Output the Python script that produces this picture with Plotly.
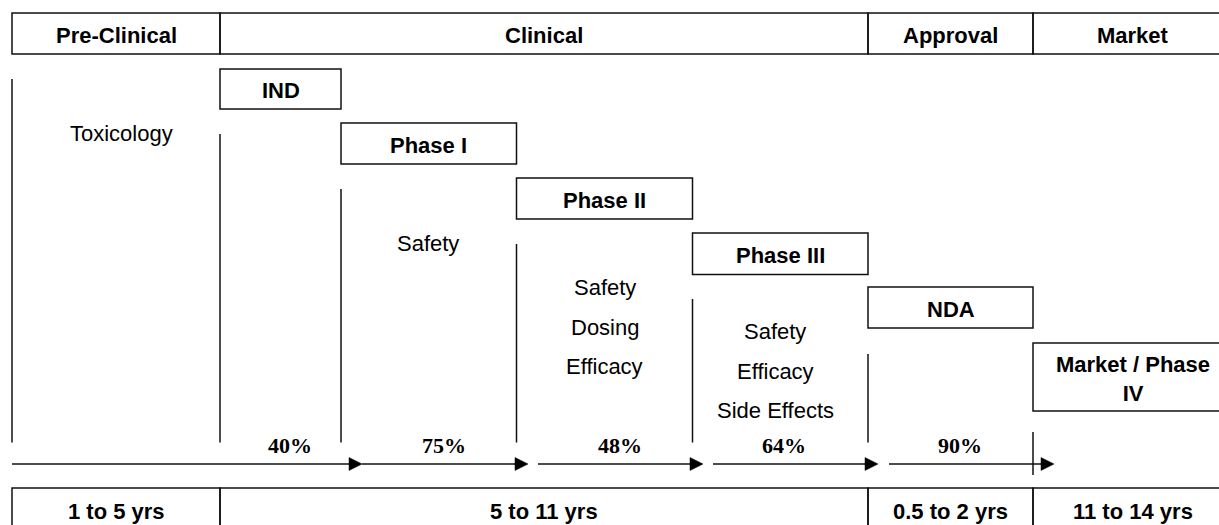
import plotly.graph_objects as go

# ---------------- data ----------------
stage_labels = ["Pre-Clinical", "Clinical", "Approval", "Market"]
stage_durations = ["1 to 5 yrs", "5 to 11 yrs", "0.5 to 2 yrs", "11 to 14 yrs"]
milestone_labels = ["IND", "Phase I", "Phase II", "Phase III", "NDA", "Market / Phase<br>IV"]
phase_notes = [
    ["Toxicology"],
    ["Safety"],
    ["Safety", "Dosing", "Efficacy"],
    ["Safety", "Efficacy", "Side Effects"],
]
success_rates = [40, 75, 48, 64, 90]

# ---------------- layout geometry (diagram units = px) ----------------
W, H = 1219, 525
stage_edges = [12, 220, 868, 1033, 1232]
header_top, header_bot = 13, 54
footer_top, footer_bot = 488, 530

step_edges = [220, 341, 516.5, 692.5, 868, 1033, 1232]
step_tops = [69, 123, 178, 233, 287, 343]
step_bots = [109, 164, 219, 274.5, 328, 411]

divider_x = [12, 220, 341, 516.5, 692.5, 868]
divider_top = [79, 134, 189, 244, 299, 354]
divider_bot = 442.5

note_x = [121.5, 428, 604.5, 775]
note_y0 = [132.5, 243, 287, 331]
note_gap = [0, 0, 39.5, 39.5]

rate_x = [290, 444, 620, 784, 960]
rate_y = 445

arrow_y = 464
arrow_start = [12, 362, 538, 713, 889]
arrow_end = [362, 528, 703, 878, 1054]
head_len, head_half = 13, 6.5
tick_x, tick_top, tick_bot = 1033, 432, 475

LINE = dict(color="#111111", width=1.5)
SANS = "Liberation Sans, Arial, sans-serif"
SERIF = "Liberation Serif, Times New Roman, serif"
FS = 22
TXT_DY = 0.5  # small vertical nudge to align cap-height centres

fig = go.Figure()
fig.add_trace(go.Scatter(x=[0, W], y=[0, H], mode="markers",
                         marker=dict(opacity=0), hoverinfo="skip", showlegend=False))

shapes = []
ann = []

def text(x, y, s, family=SANS, bold=False, size=FS):
    ann.append(dict(x=x, y=y + TXT_DY, xref="x", yref="y", text=s, showarrow=False,
                    xanchor="center", yanchor="middle",
                    font=dict(family=family, size=size, color="#000000",
                              weight="bold" if bold else "normal")))

# header and footer rows
for (top, bot, labels, cy) in [(header_top, header_bot, stage_labels, 35),
                               (footer_top, footer_bot, stage_durations, 511)]:
    for i, lab in enumerate(labels):
        x0, x1 = stage_edges[i], stage_edges[i + 1]
        shapes.append(dict(type="rect", xref="x", yref="y", x0=x0, x1=x1, y0=top, y1=bot,
                           line=LINE, fillcolor="rgba(0,0,0,0)"))
        text((x0 + x1) / 2, cy, lab, bold=True)

# milestone boxes
for i, lab in enumerate(milestone_labels):
    x0, x1 = step_edges[i], step_edges[i + 1]
    shapes.append(dict(type="rect", xref="x", yref="y", x0=x0, x1=x1,
                       y0=step_tops[i], y1=step_bots[i], line=LINE, fillcolor="white"))
    cy = (step_tops[i] + step_bots[i]) / 2 + 1
    text((x0 + x1) / 2, cy, lab, bold=True)

# vertical dividers
for x, t in zip(divider_x, divider_top):
    shapes.append(dict(type="line", xref="x", yref="y", x0=x, x1=x, y0=t, y1=divider_bot, line=LINE))

# phase notes
for i, notes in enumerate(phase_notes):
    for j, n in enumerate(notes):
        text(note_x[i], note_y0[i] + j * note_gap[i], n)

# success rates
for x, r in zip(rate_x, success_rates):
    text(x, rate_y, f"{r}%", family=SERIF, bold=True)

# arrows
for s, e in zip(arrow_start, arrow_end):
    shapes.append(dict(type="line", xref="x", yref="y", x0=s, x1=e - 4, y0=arrow_y, y1=arrow_y, line=LINE))
    shapes.append(dict(type="path", xref="x", yref="y",
                       path=f"M{e - head_len},{arrow_y - head_half} L{e},{arrow_y} L{e - head_len},{arrow_y + head_half} Z",
                       fillcolor="#000000", line=dict(color="#000000", width=0.5)))
shapes.append(dict(type="line", xref="x", yref="y", x0=tick_x, x1=tick_x, y0=tick_top, y1=tick_bot, line=LINE))

fig.update_layout(
    width=W, height=H,
    margin=dict(l=0, r=0, t=0, b=0),
    paper_bgcolor="white", plot_bgcolor="white",
    xaxis=dict(range=[0, W], visible=False, fixedrange=True),
    yaxis=dict(range=[H, 0], visible=False, fixedrange=True),
    shapes=shapes, annotations=ann, showlegend=False,
)

fig.write_html("out.html", config={"displayModeBar": False},
               post_script="document.body.style.margin='0';document.body.style.overflow='hidden';")
